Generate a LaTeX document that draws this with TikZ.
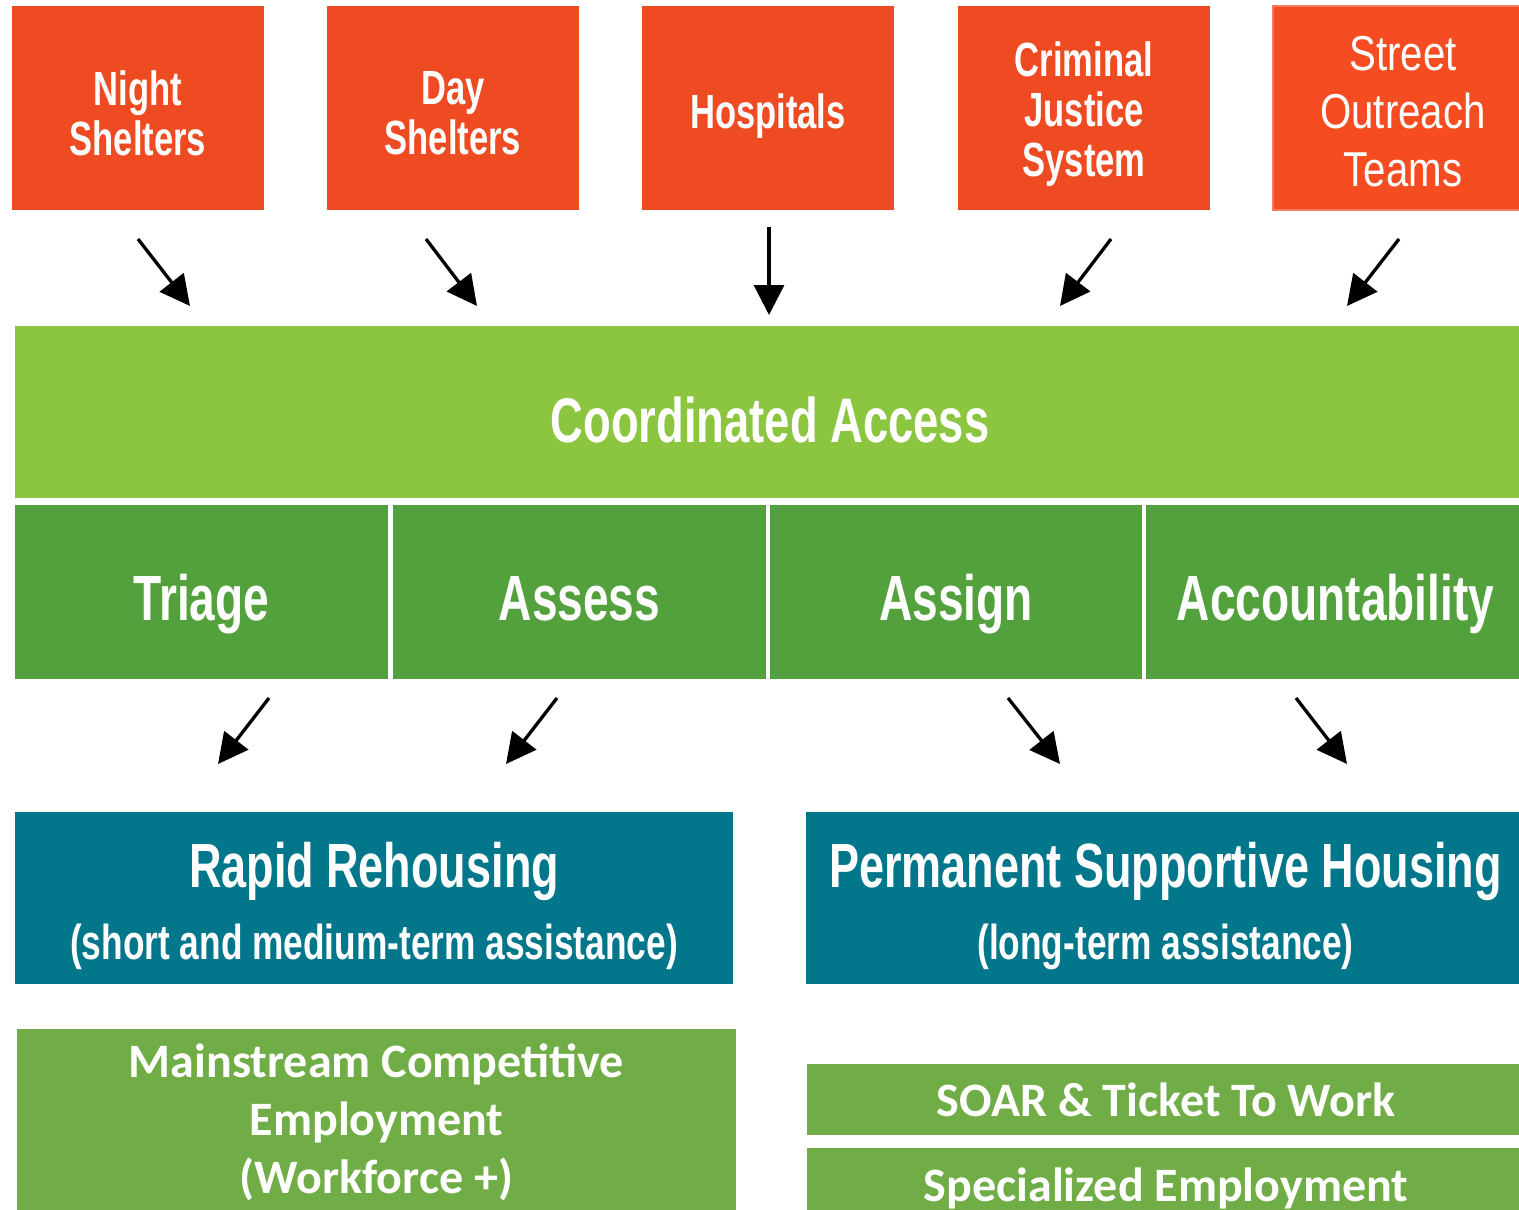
\documentclass[tikz,border=0pt]{standalone}
\usepackage{fontspec}
\usetikzlibrary{arrows.meta,calc}
\newfontfamily\condfont{Liberation Sans}[FakeStretch=0.72]
\newfontfamily\narrowfont{Liberation Sans}[FakeStretch=0.82]
\newfontfamily\calfont{Carlito}
\definecolor{orangebox}{HTML}{EE4B22}
\definecolor{streetbox}{HTML}{F54D21}
\definecolor{streetedge}{HTML}{F47C5E}
\definecolor{lightgreen}{HTML}{8CC540}
\definecolor{midgreen}{HTML}{53A13D}
\definecolor{tealbox}{HTML}{02768A}
\definecolor{empgreen}{HTML}{70AD47}
\tikzset{
  basebox/.style={inner sep=0pt, outer sep=0pt, text=white, align=center},
  srcbox/.style={basebox, fill=orangebox, minimum width=252pt, minimum height=204pt},
  srctext/.style={basebox, font=\condfont\bfseries\fontsize{48}{50}\selectfont},
  accbox/.style={basebox, fill=lightgreen},
  acctext/.style={basebox, font=\condfont\bfseries\fontsize{63}{65}\selectfont},
  stagebox/.style={basebox, fill=midgreen, minimum height=174pt,
    font=\condfont\bfseries\fontsize{64}{66}\selectfont, text height=60pt, text depth=4pt},
  housebox/.style={basebox, fill=tealbox, minimum height=172pt},
  housetext/.style={basebox},
  empbox/.style={basebox, fill=empgreen, font=\calfont\bfseries\fontsize{48}{58}\selectfont},
  flow/.style={line width=3.3pt, -{Triangle[length=30pt,width=30pt]}}
}
\newcommand{\bigline}{\condfont\bfseries\fontsize{62.5}{64}\selectfont}
\newcommand{\smallline}{\condfont\bfseries\fontsize{49}{50}\selectfont}
\begin{document}
\begin{tikzpicture}[x=1pt,y=-1pt]
\useasboundingbox[fill=white] (0,0) rectangle (1519,1210);
\begin{scope}
\clip (0,0) rectangle (1519,1210);
% sources
\node[srcbox] (night) at (138,108) {};
\node[srcbox] (day) at (453,108) {};
\node[srcbox] (hosp) at (768,108) {};
\node[srcbox] (crim) at (1084,108) {};
\node[srcbox, fill=streetbox, draw=streetedge, line width=1.5pt] (street) at (1399,108) {};
\node[srctext] (nightt) at ($(night.center)+(0,5)$) {Night\\Shelters};
\node[srctext] (dayt) at ($(day.center)+(0,5)$) {Day\\Shelters};
\node[srctext] (hospt) at ($(hosp.center)+(0,8)$) {Hospitals};
\node[srctext] (crimt) at ($(crim.center)+(0,6)$) {Criminal\\Justice\\System};
\node[basebox, font=\narrowfont\fontsize{49}{58}\selectfont] (streett)
  at ($(street.center)+(4,4)$) {Street\\Outreach\\Teams};
% coordinated access
\node[accbox, minimum width=1510pt, minimum height=172pt] (ca) at (770,412) {};
\node[acctext] (cat) at ($(ca.center)+(0,8)$) {Coordinated Access};
% stages
\node[stagebox, minimum width=373pt] (triage) at (201.5,592) {Triage};
\node[stagebox, minimum width=373pt] (assess) at (579.5,592) {Assess};
\node[stagebox, minimum width=372pt] (assign) at (956,592) {Assign};
\node[stagebox, minimum width=379pt] (account) at (1335.5,592) {Accountability};
% housing
\node[housebox, minimum width=718pt] (rrh) at (374,898) {};
\node[housebox, minimum width=719pt] (psh) at (1165.5,898) {};
\node[housetext] (rrht) at ($(rrh.center)+(0,8)$)
  {{\bigline Rapid Rehousing}\\[22pt]{\smallline (short and medium-term assistance)}};
\node[housetext] (psht) at ($(psh.center)+(0,8)$)
  {{\bigline Permanent Supportive Housing}\\[22pt]{\smallline (long-term assistance)}};
% employment
\node[empbox, minimum width=719pt, minimum height=186pt] (mce) at (376.5,1122)
  {Mainstream Competitive\\Employment\\(Workforce +)};
\node[empbox, minimum width=718pt, minimum height=71pt] (soar) at (1166,1099.5)
  {SOAR \& Ticket To Work};
\node[empbox, minimum width=718pt, minimum height=67pt, text depth=0pt] (spec) at (1166,1181.5)
  {\raisebox{-6pt}{Specialized Employment}};
% arrows
\coordinate (a1s) at (138,239); \coordinate (a1e) at (190,306);
\coordinate (a2s) at (426,239); \coordinate (a2e) at (477,306);
\coordinate (a3s) at (769,227); \coordinate (a3e) at (769,315);
\coordinate (a4s) at (1111,239); \coordinate (a4e) at (1060,306);
\coordinate (a5s) at (1399,239); \coordinate (a5e) at (1347,306);
\coordinate (b1s) at (269,698); \coordinate (b1e) at (218,764);
\coordinate (b2s) at (557,698); \coordinate (b2e) at (506,764);
\coordinate (b3s) at (1008,698); \coordinate (b3e) at (1060,764);
\coordinate (b4s) at (1296,698); \coordinate (b4e) at (1347,764);
\foreach \p in {a1,a2,a3,a4,a5,b1,b2,b3,b4}
  \draw[flow] (\p s) -- (\p e);
\end{scope}
\end{tikzpicture}
\end{document}
